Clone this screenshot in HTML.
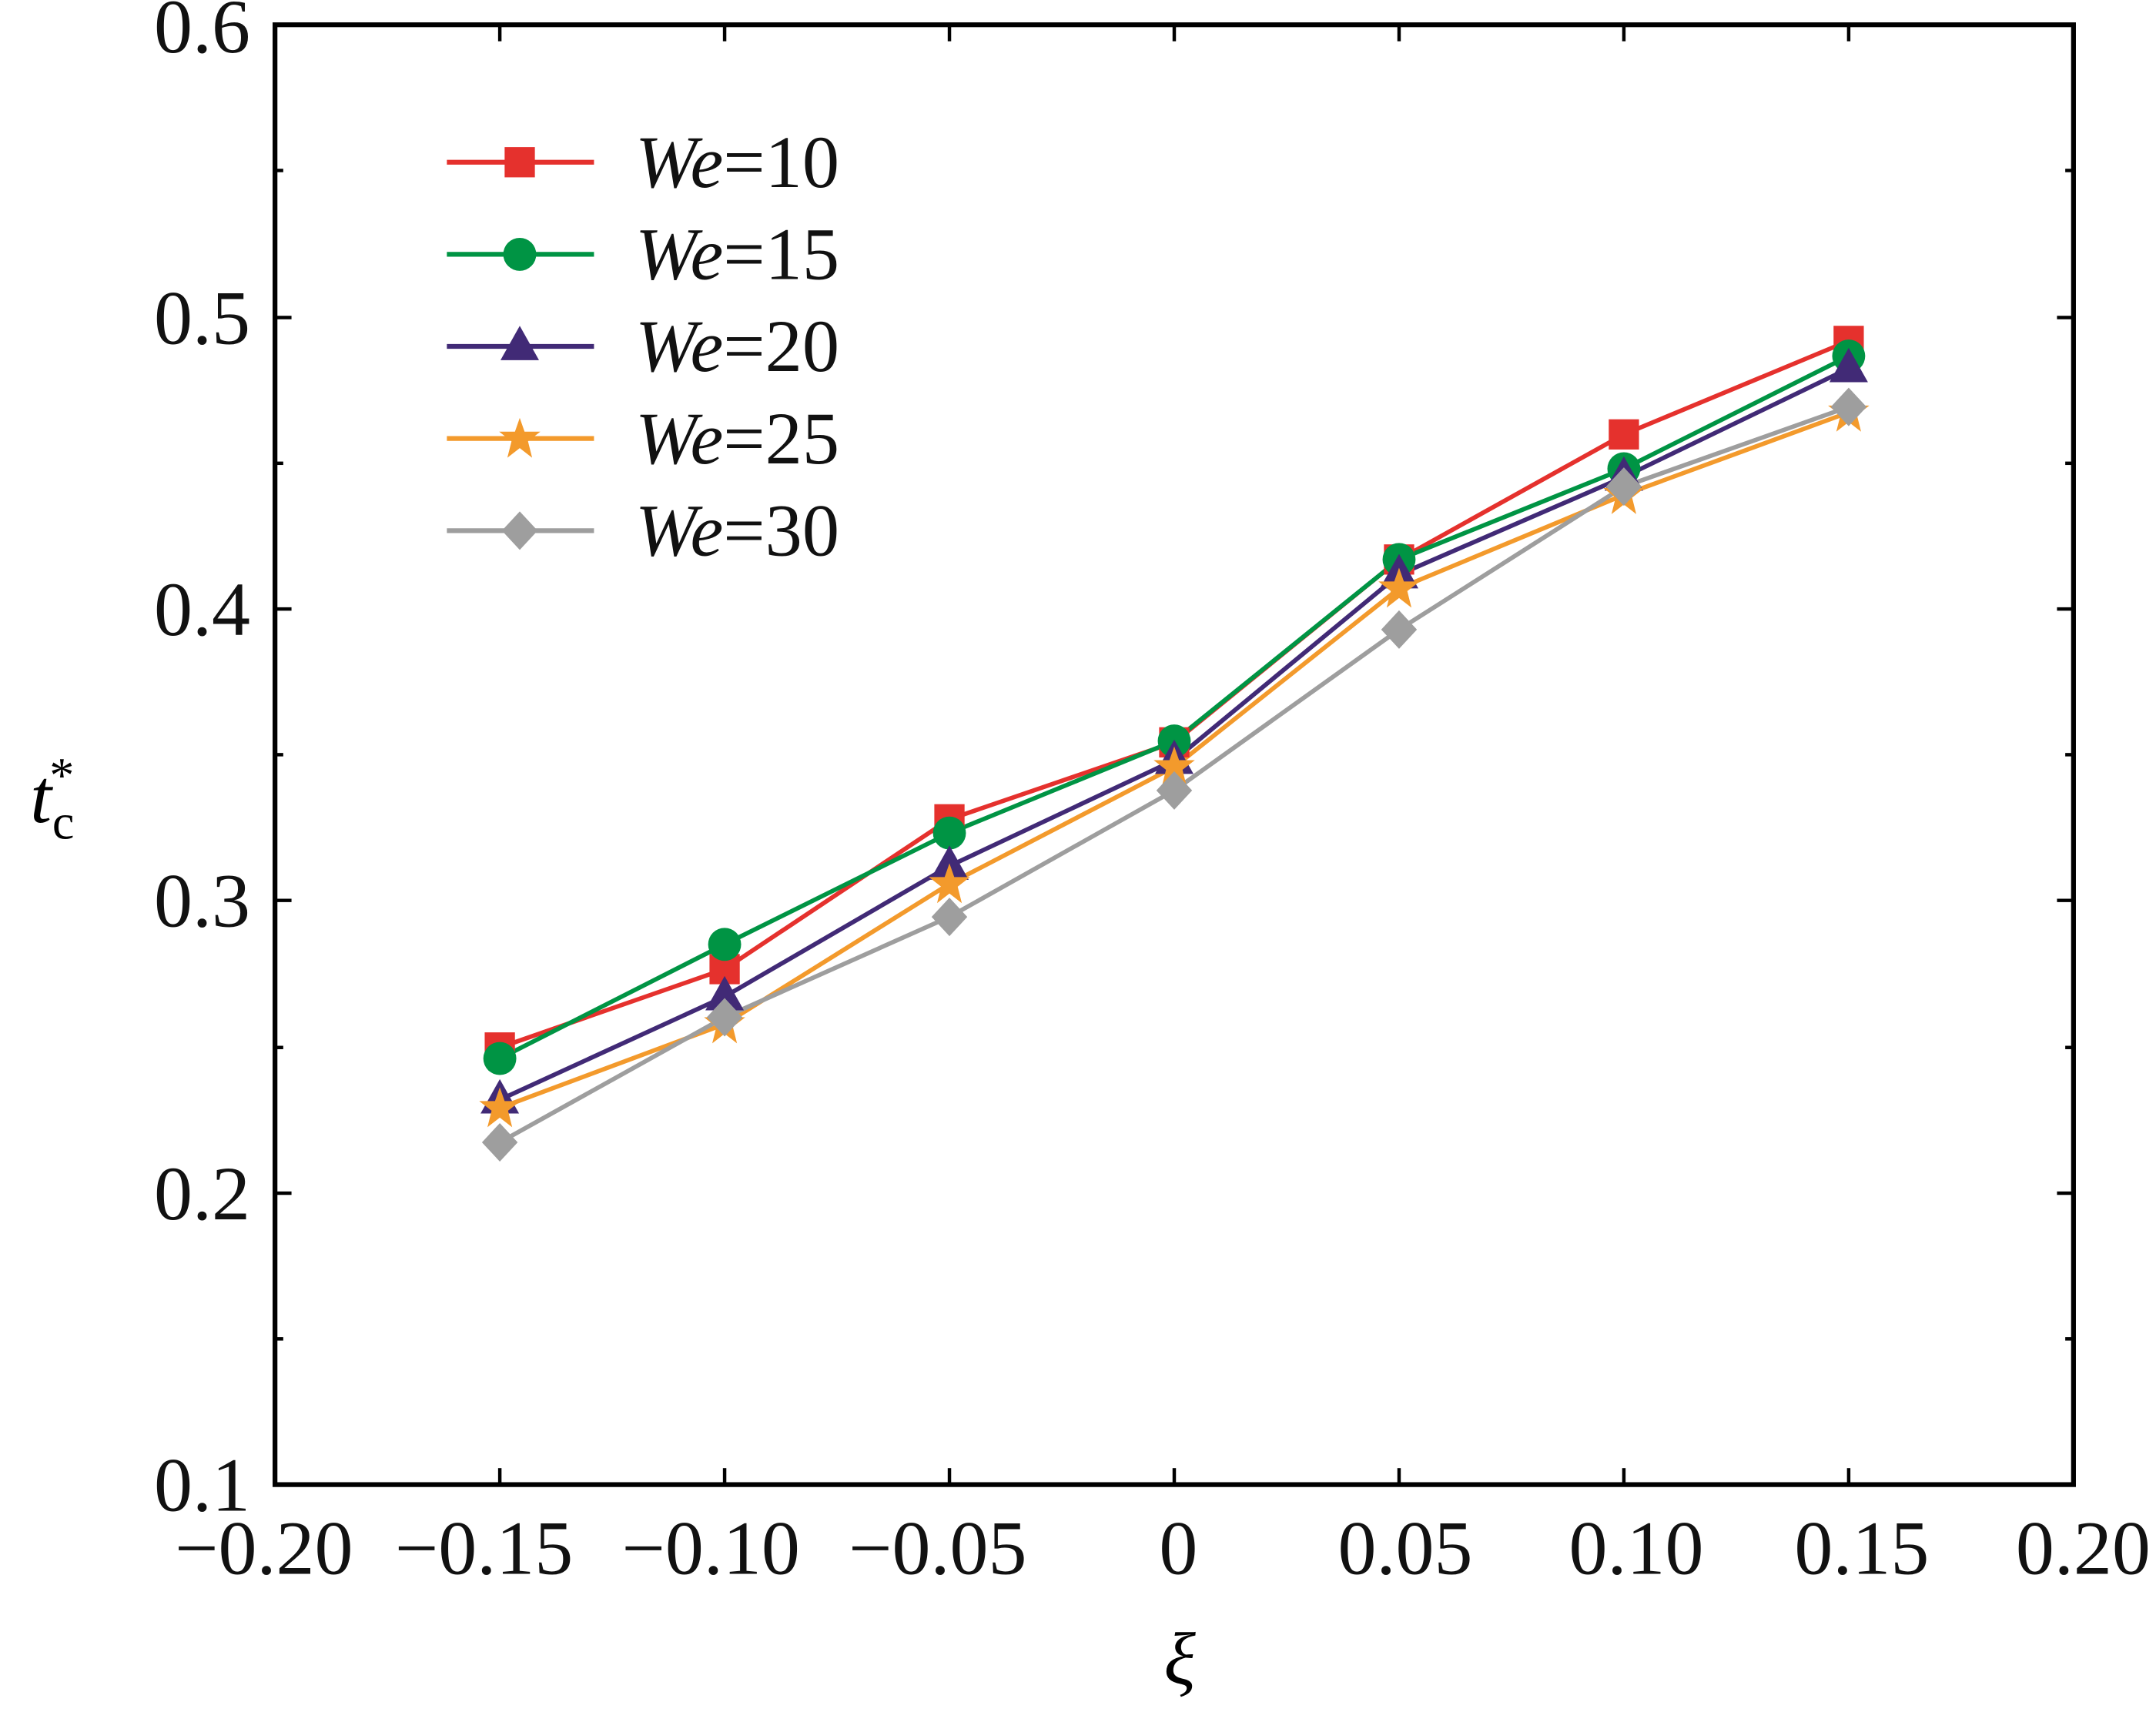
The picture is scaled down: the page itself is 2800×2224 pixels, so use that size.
<!DOCTYPE html>
<html><head><style>html,body{margin:0;padding:0;background:#fff}svg{display:block}svg text{font-family:"Liberation Serif","Times New Roman",serif}</style></head><body>
<svg width="2800" height="2224" viewBox="0 0 1568 1245.4" xmlns="http://www.w3.org/2000/svg">
<defs>
<g id="sq"><rect x="-11" y="-11" width="22" height="22" fill="#e5312d"/></g>
<g id="ci"><circle r="12" fill="#009444"/></g>
<g id="tr"><polygon points="0,-15 14,10 -14,10" fill="#412a76"/></g>
<g id="st"><polygon points="0,-15 3.5,-5 15,-5 6,2 9,14 0,7 -9,14 -6,2 -15,-5 -3.5,-5" fill="#f39a2c"/></g>
<g id="di"><polygon points="0,-14 13,0 0,14 -13,0" fill="#9e9e9e"/></g>
</defs>
<g stroke="#000" stroke-width="2.5">
<line x1="363.5" y1="1080" x2="363.5" y2="1068"/><line x1="527" y1="1080" x2="527" y2="1068"/><line x1="690.5" y1="1080" x2="690.5" y2="1068"/><line x1="854" y1="1080" x2="854" y2="1068"/><line x1="1017.5" y1="1080" x2="1017.5" y2="1068"/><line x1="1181" y1="1080" x2="1181" y2="1068"/><line x1="1344.5" y1="1080" x2="1344.5" y2="1068"/>
<line x1="363.5" y1="18" x2="363.5" y2="30"/><line x1="527" y1="18" x2="527" y2="30"/><line x1="690.5" y1="18" x2="690.5" y2="30"/><line x1="854" y1="18" x2="854" y2="30"/><line x1="1017.5" y1="18" x2="1017.5" y2="30"/><line x1="1181" y1="18" x2="1181" y2="30"/><line x1="1344.5" y1="18" x2="1344.5" y2="30"/>
<line x1="200" y1="868" x2="212" y2="868"/><line x1="200" y1="655" x2="212" y2="655"/><line x1="200" y1="443" x2="212" y2="443"/><line x1="200" y1="231" x2="212" y2="231"/>
<line x1="200" y1="974" x2="206" y2="974"/><line x1="200" y1="762" x2="206" y2="762"/><line x1="200" y1="549" x2="206" y2="549"/><line x1="200" y1="337" x2="206" y2="337"/><line x1="200" y1="124" x2="206" y2="124"/>
<line x1="1508" y1="868" x2="1496" y2="868"/><line x1="1508" y1="655" x2="1496" y2="655"/><line x1="1508" y1="443" x2="1496" y2="443"/><line x1="1508" y1="231" x2="1496" y2="231"/>
<line x1="1508" y1="974" x2="1502" y2="974"/><line x1="1508" y1="762" x2="1502" y2="762"/><line x1="1508" y1="549" x2="1502" y2="549"/><line x1="1508" y1="337" x2="1502" y2="337"/><line x1="1508" y1="124" x2="1502" y2="124"/>
</g>
<rect x="200" y="18" width="1308" height="1062" fill="none" stroke="#000" stroke-width="3.5"/>
<g font-size="56" fill="#111" text-anchor="end">
<text x="182" y="1099">0.1</text><text x="182" y="887">0.2</text><text x="182" y="674">0.3</text><text x="182" y="462">0.4</text><text x="182" y="250">0.5</text><text x="182" y="38">0.6</text>
</g>
<g font-size="56" fill="#111" text-anchor="middle">
<text x="192" y="1145">−0.20</text><text x="352" y="1145">−0.15</text><text x="517" y="1145">−0.10</text><text x="682" y="1145">−0.05</text><text x="857" y="1145">0</text><text x="1022" y="1145">0.05</text><text x="1190" y="1145">0.10</text><text x="1354" y="1145">0.15</text><text x="1515" y="1145">0.20</text>
</g>
<text x="858" y="1225" font-size="54" font-style="italic" text-anchor="middle">ξ</text>
<text x="22" y="598" font-size="56" font-style="italic">t</text><text x="38" y="610" font-size="36">c</text><text x="36" y="576" font-size="36">*</text>
<g fill="none" stroke-width="3.2">
<polyline stroke="#e5312d" points="363.5,762 527,705 690.5,596 854,540 1017.5,407 1181,316 1344.5,248"/>
<polyline stroke="#009444" points="363.5,770 527,687 690.5,606 854,539 1017.5,407 1181,341 1344.5,259"/>
<polyline stroke="#412a76" points="363.5,800 527,725 690.5,630 854,553 1017.5,418 1181,347 1344.5,268"/>
<polyline stroke="#f39a2c" points="363.5,806 527,745 690.5,643 854,558 1017.5,428 1181,360 1344.5,300"/>
<polyline stroke="#9e9e9e" points="363.5,831 527,740 690.5,667 854,575 1017.5,458 1181,354 1344.5,296"/>
</g>
<g>
<use href="#sq" x="363.5" y="762"/><use href="#sq" x="527" y="705"/><use href="#sq" x="690.5" y="596"/><use href="#sq" x="854" y="540"/><use href="#sq" x="1017.5" y="407"/><use href="#sq" x="1181" y="316"/><use href="#sq" x="1344.5" y="248"/>
<use href="#ci" x="363.5" y="770"/><use href="#ci" x="527" y="687"/><use href="#ci" x="690.5" y="606"/><use href="#ci" x="854" y="539"/><use href="#ci" x="1017.5" y="407"/><use href="#ci" x="1181" y="341"/><use href="#ci" x="1344.5" y="259"/>
<use href="#tr" x="363.5" y="800"/><use href="#tr" x="527" y="725"/><use href="#tr" x="690.5" y="630"/><use href="#tr" x="854" y="553"/><use href="#tr" x="1017.5" y="418"/><use href="#tr" x="1181" y="347"/><use href="#tr" x="1344.5" y="268"/>
<use href="#st" x="363.5" y="806"/><use href="#st" x="527" y="745"/><use href="#st" x="690.5" y="643"/><use href="#st" x="854" y="558"/><use href="#st" x="1017.5" y="428"/><use href="#st" x="1181" y="360"/><use href="#st" x="1344.5" y="300"/>
<use href="#di" x="363.5" y="831"/><use href="#di" x="527" y="740"/><use href="#di" x="690.5" y="667"/><use href="#di" x="854" y="575"/><use href="#di" x="1017.5" y="458"/><use href="#di" x="1181" y="354"/><use href="#di" x="1344.5" y="296"/>
</g>
<g stroke-width="3.5">
<line x1="325" y1="118" x2="432" y2="118" stroke="#e5312d"/><use href="#sq" x="378" y="118"/>
<line x1="325" y1="185" x2="432" y2="185" stroke="#009444"/><use href="#ci" x="378" y="185"/>
<line x1="325" y1="252" x2="432" y2="252" stroke="#412a76"/><use href="#tr" x="378" y="252"/>
<line x1="325" y1="319" x2="432" y2="319" stroke="#f39a2c"/><use href="#st" x="378" y="319"/>
<line x1="325" y1="386" x2="432" y2="386" stroke="#9e9e9e"/><use href="#di" x="378" y="386"/>
</g>
<g font-size="54" fill="#111">
<text x="462" y="136"><tspan font-style="italic">We</tspan>=10</text>
<text x="462" y="203"><tspan font-style="italic">We</tspan>=15</text>
<text x="462" y="270"><tspan font-style="italic">We</tspan>=20</text>
<text x="462" y="337"><tspan font-style="italic">We</tspan>=25</text>
<text x="462" y="404"><tspan font-style="italic">We</tspan>=30</text>
</g>
</svg>
</body></html>
